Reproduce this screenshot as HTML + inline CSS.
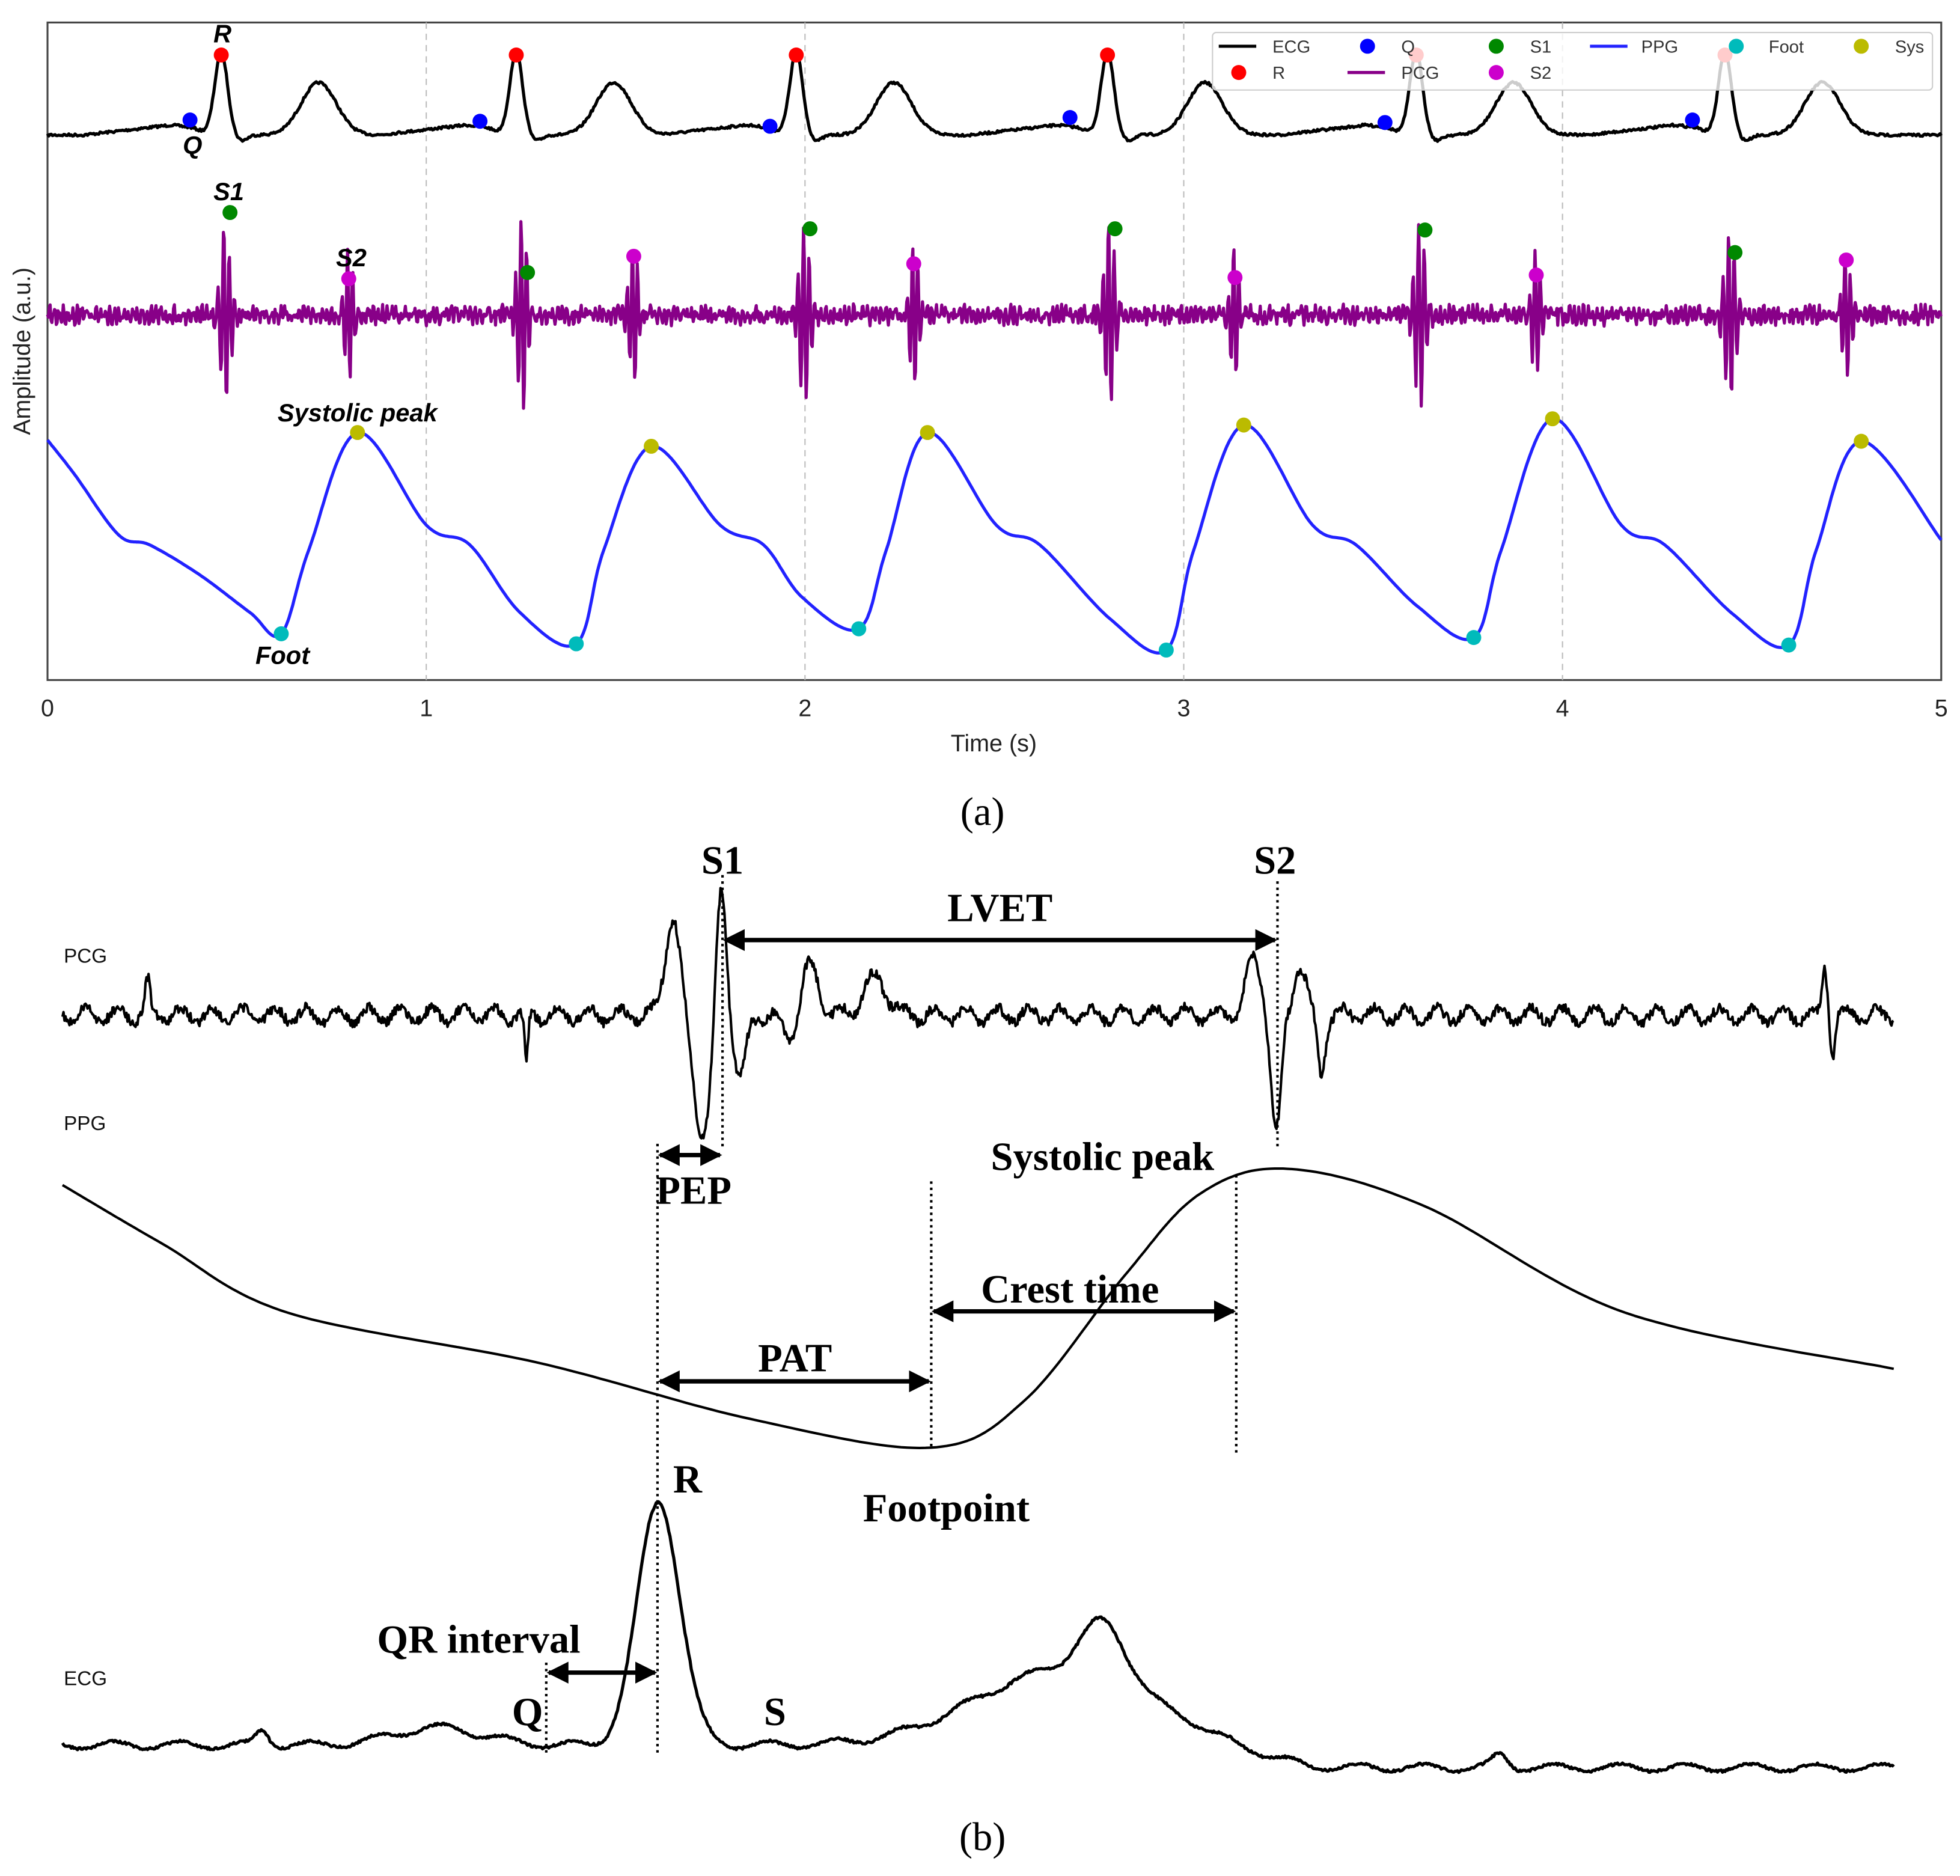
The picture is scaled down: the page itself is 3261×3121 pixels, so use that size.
<!DOCTYPE html>
<html><head><meta charset="utf-8"><style>html,body{margin:0;padding:0;background:#fff}svg{display:block}</style></head>
<body>
<svg id="s" xmlns="http://www.w3.org/2000/svg" width="3261" height="3121" viewBox="0 0 1568 1500.7">
<rect width="1568" height="1501" fill="#fff"/>
<g id="a"></g>
<g font-family="Liberation Sans, sans-serif" fill="#222">
<rect x="38" y="18" width="1515" height="526" fill="none" stroke="#444" stroke-width="1.5"/>
<g stroke="#bbb" stroke-dasharray="5,4" stroke-width="1"><line x1="341" y1="18" x2="341" y2="544"/><line x1="644" y1="18" x2="644" y2="544"/><line x1="947" y1="18" x2="947" y2="544"/><line x1="1250" y1="18" x2="1250" y2="544"/></g>
<g font-size="19" text-anchor="middle"><text x="38" y="573">0</text><text x="341" y="573">1</text><text x="644" y="573">2</text><text x="947" y="573">3</text><text x="1250" y="573">4</text><text x="1553" y="573">5</text><text x="795" y="601">Time (s)</text></g>
<text transform="translate(24,281) rotate(-90)" font-size="19" text-anchor="middle">Amplitude (a.u.)</text>
</g>
<g id="traces"></g>
<g id="leg" font-family="Liberation Sans, sans-serif" font-size="14" fill="#333">
<rect x="970" y="26" width="576" height="46" rx="3" fill="#fff" fill-opacity="0.8" stroke="#ccc"/>
<line x1="975" y1="37" x2="1005" y2="37" stroke="#000" stroke-width="2.5"/><text x="1018" y="42">ECG</text>
<circle cx="1094" cy="37" r="6" fill="#00f"/><text x="1121" y="42">Q</text>
<circle cx="1197" cy="37" r="6" fill="#080"/><text x="1224" y="42">S1</text>
<line x1="1272" y1="37" x2="1302" y2="37" stroke="#22f" stroke-width="2.5"/><text x="1313" y="42">PPG</text>
<circle cx="1389" cy="37" r="6" fill="#0bb"/><text x="1415" y="42">Foot</text>
<circle cx="1489" cy="37" r="6" fill="#bb0"/><text x="1516" y="42">Sys</text>
<circle cx="991" cy="58" r="6" fill="#f00"/><text x="1018" y="63">R</text>
<line x1="1078" y1="58" x2="1108" y2="58" stroke="#808" stroke-width="2.5"/><text x="1121" y="63">PCG</text>
<circle cx="1197" cy="58" r="6" fill="#c0c"/><text x="1224" y="63">S2</text>
</g>
<g font-family="Liberation Sans, DejaVu Sans, sans-serif" font-size="20" font-weight="bold" font-style="italic" fill="#000" text-anchor="middle">
<text x="178" y="34">R</text><text x="154" y="123">Q</text><text x="183" y="160">S1</text><text x="281" y="213">S2</text><text x="286" y="337">Systolic peak</text><text x="226" y="531">Foot</text>
</g>
<g font-family="Liberation Serif, serif" font-size="32" text-anchor="middle" fill="#000"><text x="786" y="660">(a)</text><text x="786" y="1480">(b)</text></g>
<g font-family="Liberation Sans, sans-serif" font-size="16" fill="#111"><text x="51" y="770">PCG</text><text x="51" y="904">PPG</text><text x="51" y="1348">ECG</text></g>
<g id="b"></g>
<g stroke="#000" stroke-width="2" stroke-dasharray="2,3"><line x1="526" y1="915" x2="526" y2="1405"/><line x1="578" y1="700" x2="578" y2="920"/><line x1="1022" y1="705" x2="1022" y2="920"/><line x1="745" y1="945" x2="745" y2="1160"/><line x1="989" y1="940" x2="989" y2="1163"/><line x1="437" y1="1330" x2="437" y2="1405"/></g>
<defs><marker id="m" viewBox="0 0 10 10" refX="9" refY="5" markerWidth="5" markerHeight="5" orient="auto-start-reverse"><path d="M0,0L10,5L0,10z" fill="#000"/></marker></defs>
<g stroke="#000" stroke-width="3.5" marker-start="url(#m)" marker-end="url(#m)"><line x1="580" y1="752" x2="1020" y2="752"/><line x1="528" y1="924" x2="576" y2="924"/><line x1="528" y1="1105" x2="743" y2="1105"/><line x1="747" y1="1049" x2="987" y2="1049"/><line x1="439" y1="1338" x2="524" y2="1338"/></g>
<g font-family="Liberation Serif, serif" font-size="32" font-weight="bold" fill="#000" text-anchor="middle">
<text x="578" y="699">S1</text><text x="1020" y="699">S2</text><text x="800" y="737">LVET</text><text x="555" y="963">PEP</text><text x="882" y="936">Systolic peak</text><text x="856" y="1042">Crest time</text><text x="636" y="1097">PAT</text><text x="550" y="1194">R</text><text x="757" y="1217">Footpoint</text><text x="383" y="1322">QR interval</text><text x="422" y="1380">Q</text><text x="620" y="1380">S</text>
</g>
</svg>
<script>
(function(){
var NS="http://www.w3.org/2000/svg";
var seed=7;function rnd(){seed=(seed*16807)%2147483647;return seed/2147483647-0.5;}
function path(pts,col,w,g){var d="M"+pts.map(function(p){return p[0].toFixed(1)+","+p[1].toFixed(1)}).join("L");var e=document.createElementNS(NS,"path");e.setAttribute("d",d);e.setAttribute("fill","none");e.setAttribute("stroke",col);e.setAttribute("stroke-width",w);e.setAttribute("stroke-linejoin","round");document.getElementById(g).appendChild(e);}
function dot(x,y,c){var e=document.createElementNS(NS,"circle");e.setAttribute("cx",x);e.setAttribute("cy",y);e.setAttribute("r",6);e.setAttribute("fill",c);document.getElementById("traces").appendChild(e);}
function G(x,m,s){return Math.exp(-(x-m)*(x-m)/(2*s*s));}
var R=[177,413,637,886,1133,1380],p=[];
for(var x=38;x<=1553;x+=1){var y=108;for(var i=0;i<R.length;i++){var r=R[i];y-=8*(1-Math.min(1,Math.abs(x-(r-40))/70));y+=2*G(x,r-15,4);y-=63*G(x,r,5);y+=6*G(x,r+16,5);y-=42*G(x,r+78,14);}
y+=rnd()*2;p.push([x,y]);}
path(p,"#000",2.5,"traces");
var S1=[180,418,644,888,1136,1384],S2=[279,507,731,988,1229,1477];p=[];
for(x=38;x<=1553;x+=0.7){var y=252+rnd()*10+4*Math.sin(x*1.7);for(i=0;i<6;i++){y+=75*G(x,S1[i],4)*Math.sin((x-S1[i])*1.4);y+=55*G(x,S2[i],3.5)*Math.sin((x-S2[i])*1.5);}p.push([x,y]);}
path(p,"#808",2.5,"traces");
var sys=[[286,346],[521,357],[742,346],[995,340],[1242,335],[1489,353]],ft=[[225,507],[461,515],[687,503],[933,520],[1179,510],[1431,516]];
var k=[[38,352],[60,380],[95,428],[120,436],[160,460],[200,490]];
for(i=0;i<6;i++){k.push(ft[i]);k.push([ft[i][0]+22,440]);k.push(sys[i]);var s=sys[i];var nf=i<5?ft[i+1]:[1553,0];
if(i<5){k.push([s[0]+55,420]);k.push([s[0]+90,436]);k.push([nf[0]-45,nf[1]-25]);}else{k.push([1553,432]);}}
function cr(k,st){var p=[];for(var i=0;i<k.length-1;i++){var p0=k[Math.max(0,i-1)],p1=k[i],p2=k[i+1],p3=k[Math.min(k.length-1,i+2)];for(var t=0;t<1;t+=st){var t2=t*t,t3=t2*t;p.push([0.5*((2*p1[0])+(-p0[0]+p2[0])*t+(2*p0[0]-5*p1[0]+4*p2[0]-p3[0])*t2+(-p0[0]+3*p1[0]-3*p2[0]+p3[0])*t3),0.5*((2*p1[1])+(-p0[1]+p2[1])*t+(2*p0[1]-5*p1[1]+4*p2[1]-p3[1])*t2+(-p0[1]+3*p1[1]-3*p2[1]+p3[1])*t3)]);}}p.push(k[k.length-1]);return p;}
path(cr(k,0.05),"#22f",2.5,"traces");
[[152,96],[384,97],[616,101],[856,94],[1108,98],[1354,96]].forEach(function(q){dot(q[0],q[1],"#00f")});
R.forEach(function(r){dot(r,44,"#f00")});
[170,218,183,183,184,202].forEach(function(y,i){dot(S1[i]+4,y,"#080")});
[223,205,211,222,220,208].forEach(function(y,i){dot(S2[i],y,"#c0c")});
sys.forEach(function(q){dot(q[0],q[1],"#bb0")});ft.forEach(function(q){dot(q[0],q[1],"#0bb")});
p=[];for(x=50;x<=1515;x+=0.8){var y=812+rnd()*8+6*Math.sin(x*0.25);
y+=-78*G(x,538,6)+95*G(x,562,7)-110*G(x,577,4)+50*G(x,592,5)-40*G(x,648,7)+20*G(x,632,6)-30*G(x,700,9)-45*G(x,1003,6)+95*G(x,1021,4)-40*G(x,1040,5)+45*G(x,1057,3)-25*G(x,118,2)+40*G(x,421,1.5)-40*G(x,1460,2)+30*G(x,1466,2);
p.push([x,y]);}
path(p,"#000",2,"b");
k=[[50,948],[130,995],[230,1050],[430,1090],[600,1135],[745,1158],[820,1120],[900,1020],[960,955],[1030,935],[1140,965],[1300,1050],[1515,1095]];
path(cr(k,0.04),"#000",2,"b");
p=[];for(x=50;x<=1515;x+=1){var base=1396+(x>950?18*Math.min(1,(x-950)/100):0);
var y=base+3*Math.sin(x*0.12)+rnd()*2-14*G(x,350,35)-12*G(x,210,5)-195*G(x,527,17)-60*G(x,850,70)-45*G(x,883,18)-10*G(x,1200,6);
p.push([x,y]);}
path(p,"#000",2.5,"b");
})();
</script>
</body></html>
